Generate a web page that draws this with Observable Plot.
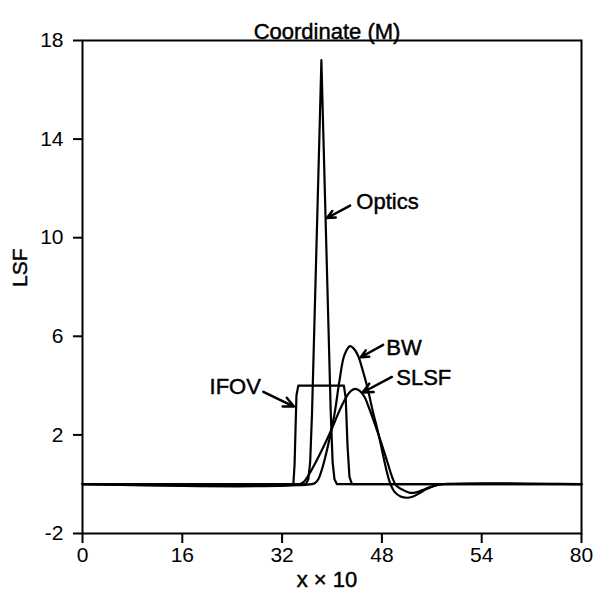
<!DOCTYPE html>
<html>
<head>
<meta charset="utf-8">
<script src="https://cdn.jsdelivr.net/npm/d3@7"></script>
<script src="https://cdn.jsdelivr.net/npm/@observablehq/plot@0.6"></script>
<style>
  html, body { margin: 0; padding: 0; background: white; }
</style>
</head>
<body>
<div id="chart"></div>
<script>
// Tick values and labels (the reference prints "54" at the 64 position)
const xTicks = [0, 16, 32, 48, 64, 80];
const xTickLabels = ["0", "16", "32", "48", "54", "80"];
const yTicks = [-2, 2, 6, 10, 14, 18];
const yTickLabels = ["-2", "2", "6", "10", "14", "18"];

// Series
const ifovX = [0, 33.8, 34.0, 34.3, 34.6, 41.9, 42.2, 42.5, 42.8, 43.2, 80];
const ifovY = [0, 0, 0.8, 3.6, 4.0, 4.0, 3.5, 1.5, 0.3, 0, 0];

const opticsX = [0, 35.8, 36.2, 36.5, 36.8, 37.2, 37.6, 38.0, 38.3, 38.6, 39.0, 39.4, 39.8, 40.1, 40.4, 40.8, 80];
const opticsY = [0, 0, 0.2, 0.9, 2.9, 6.7, 10.5, 14.3, 17.2, 14.3, 10.5, 6.7, 2.9, 0.9, 0.2, 0, 0];

const bwX = [0, 36.8, 37.3, 37.8, 38.5, 39.3, 40.4, 41.2, 42.0, 42.9, 43.5, 44.2, 45.0, 45.7, 46.5, 47.3, 48.0, 48.7, 49.3, 50.0, 51.0, 52.0, 53.0, 54.0, 55.0, 56.0, 57.0, 58.0, 80];
const bwY = [0, 0, 0.05, 0.2, 0.7, 1.5, 2.85, 4.2, 5.25, 5.6, 5.5, 5.2, 4.55, 3.9, 3.0, 2.2, 1.4, 0.6, 0.05, -0.3, -0.5, -0.55, -0.5, -0.37, -0.22, -0.1, -0.03, 0, 0];

const slsfX = [0, 34.8, 35.5, 36.2, 37.2, 38.5, 39.8, 40.8, 41.7, 42.5, 43.1, 43.7, 44.4, 45.2, 46.0, 47.0, 48.0, 49.0, 49.7, 50.3, 51.5, 52.5, 53.5, 54.5, 55.5, 56.5, 57.5, 80];
const slsfY = [0, 0, 0.1, 0.35, 0.8, 1.45, 2.15, 2.75, 3.25, 3.62, 3.8, 3.87, 3.8, 3.55, 3.05, 2.35, 1.6, 0.8, 0.25, -0.05, -0.25, -0.35, -0.33, -0.24, -0.14, -0.06, 0, 0];

// Annotation labels and arrows (data units)
const labelText = ["Optics", "BW", "SLSF", "IFOV"];
const labelX = [43.9, 48.7, 50.3, 28.6];
const labelY = [11.43, 5.54, 4.32, 3.95];
const labelAnchor = ["start", "start", "start", "end"];
const arrowX1 = [42.9, 48.2, 49.6, 29.0];
const arrowY1 = [11.3, 5.65, 4.35, 3.75];
const arrowX2 = [39.2, 44.6, 44.9, 33.9];
const arrowY2 = [10.8, 5.15, 3.72, 3.15];

const toRows = (xs, ys) => xs.map((x, i) => ({x, y: ys[i]}));
const labels = labelText.map((t, i) => ({t, x: labelX[i], y: labelY[i], a: labelAnchor[i]}));
const arrows = labelText.map((t, i) => ({x1: arrowX1[i], y1: arrowY1[i], x2: arrowX2[i], y2: arrowY2[i]}));

const font = "'Liberation Sans', Arial, Helvetica, sans-serif";
const textInk = {fill: "black", stroke: "black", strokeWidth: 0.45};

const chart = Plot.plot({
  width: 598,
  height: 602,
  marginLeft: 82,
  marginRight: 17,
  marginTop: 40,
  marginBottom: 69,
  style: {fontFamily: font, background: "white", color: "black"},
  x: {domain: [0, 80]},
  y: {domain: [-2, 18]},
  marks: [
    Plot.frame({stroke: "black", strokeWidth: 2}),
    Plot.axisX({ticks: xTicks, tickFormat: d => xTickLabels[xTicks.indexOf(d)], tickSize: 10, tickPadding: 4, fontSize: 21, label: null, strokeWidth: 2}),
    Plot.axisY({ticks: yTicks, tickFormat: d => yTickLabels[yTicks.indexOf(d)], tickSize: 9, tickPadding: 10, fontSize: 21, label: null, strokeWidth: 2}),
    Plot.line(toRows(ifovX, ifovY), {x: "x", y: "y", stroke: "black", strokeWidth: 2.2}),
    Plot.line(toRows(opticsX, opticsY), {x: "x", y: "y", stroke: "black", strokeWidth: 2.2}),
    Plot.line(toRows(bwX, bwY), {x: "x", y: "y", stroke: "black", strokeWidth: 2.2, curve: "catmull-rom"}),
    Plot.line(toRows(slsfX, slsfY), {x: "x", y: "y", stroke: "black", strokeWidth: 2.2, curve: "catmull-rom"}),
    Plot.arrow(arrows, {x1: "x1", y1: "y1", x2: "x2", y2: "y2", stroke: "black", strokeWidth: 2.5, headLength: 9, headAngle: 50}),
    Plot.text(labels.filter(d => d.a === "start"), {x: "x", y: "y", text: "t", textAnchor: "start", fontSize: 22, letterSpacing: 1, ...textInk}),
    Plot.text(labels.filter(d => d.a === "end"), {x: "x", y: "y", text: "t", textAnchor: "end", fontSize: 22, letterSpacing: 1, ...textInk}),
    Plot.text(["Coordinate (M)"], {frameAnchor: "top", dx: -5, dy: -17, fontSize: 22, letterSpacing: 2.5, ...textInk}),
    Plot.text(["LSF"], {frameAnchor: "left", dx: -62, rotate: -90, fontSize: 21, letterSpacing: 1, ...textInk}),
    Plot.text(["x × 10"], {frameAnchor: "bottom", dx: -5, dy: 53, fontSize: 22, letterSpacing: 2, ...textInk})
  ]
});
document.getElementById("chart").appendChild(chart);
</script>
</body>
</html>
